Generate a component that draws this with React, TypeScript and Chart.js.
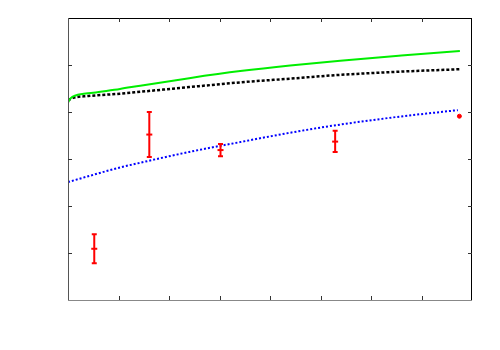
import React, { useEffect, useRef } from "react";
import { Chart, registerables } from "chart.js";

Chart.register(...registerables);

const greenX = [0, 0.05, 0.15, 0.5, 1.03, 1.43, 2.4, 3.41, 4.4, 5.39, 6.6, 7.76];
const greenY = [4.2, 4.29, 4.35, 4.41, 4.49, 4.56, 4.72, 4.87, 4.99, 5.09, 5.2, 5.3];
const blackX = [0, 0.1, 0.4, 1.03, 1.43, 2.4, 3.41, 4.4, 5.39, 6.6, 7.76];
const blackY = [4.25, 4.3, 4.34, 4.39, 4.43, 4.53, 4.63, 4.71, 4.79, 4.86, 4.91];
const blueX = [0, 1.03, 1.43, 2.4, 3.41, 4.3, 5.19, 6.4, 7.72];
const blueY = [2.51, 2.82, 2.92, 3.15, 3.36, 3.54, 3.7, 3.88, 4.04];
const errX = [0.52, 1.61, 3.02, 5.29];
const errY = [1.09, 3.52, 3.19, 3.37];
const errLow = [0.78, 3.04, 3.06, 3.15];
const errHigh = [1.4, 4.0, 3.32, 3.6];
const soloX = [7.75];
const soloY = [3.91];
const xTicks = [1, 2, 3, 4, 5, 6, 7];
const yTicks = [1, 2, 3, 4, 5];

const pts = (xs: number[], ys: number[]) => xs.map((x, i) => ({ x, y: ys[i] }));

const framePlugin = {
  id: "frame",
  afterDatasetsDraw(chart: any) {
    const { ctx, chartArea: a, scales } = chart;
    const xs = scales.x, ys = scales.y;
    ctx.save();
    ctx.strokeStyle = "#ff0000";
    ctx.lineWidth = 2;
    errX.forEach((xv, i) => {
      const px = xs.getPixelForValue(xv);
      const lo = ys.getPixelForValue(errLow[i]);
      const hi = ys.getPixelForValue(errHigh[i]);
      ctx.beginPath();
      ctx.moveTo(px, lo);
      ctx.lineTo(px, hi);
      ctx.moveTo(px - 2.5, lo);
      ctx.lineTo(px + 2.5, lo);
      ctx.moveTo(px - 2.5, hi);
      ctx.lineTo(px + 2.5, hi);
      ctx.stroke();
    });
    ctx.lineWidth = 1;
    ctx.strokeStyle = "#000";
    ctx.beginPath();
    ctx.moveTo(a.left, a.top + 0.5);
    ctx.lineTo(a.right, a.top + 0.5);
    ctx.moveTo(a.right - 0.5, a.top);
    ctx.lineTo(a.right - 0.5, a.bottom);
    ctx.stroke();
    ctx.strokeStyle = "#555";
    ctx.beginPath();
    ctx.moveTo(a.left + 0.5, a.top);
    ctx.lineTo(a.left + 0.5, a.bottom);
    ctx.stroke();
    ctx.strokeStyle = "#888";
    ctx.beginPath();
    ctx.moveTo(a.left, a.bottom + 0.5);
    ctx.lineTo(a.right, a.bottom + 0.5);
    ctx.stroke();
    ctx.strokeStyle = "#333";
    ctx.beginPath();
    xTicks.forEach((t) => {
      const px = Math.round(xs.getPixelForValue(t)) + 0.5;
      ctx.moveTo(px, a.bottom);
      ctx.lineTo(px, a.bottom - 4);
      ctx.moveTo(px, a.top);
      ctx.lineTo(px, a.top + 4);
    });
    yTicks.forEach((t) => {
      const py = Math.round(ys.getPixelForValue(t)) + 0.5;
      ctx.moveTo(a.left, py);
      ctx.lineTo(a.left + 4, py);
      ctx.moveTo(a.right, py);
      ctx.lineTo(a.right - 4, py);
    });
    ctx.stroke();
    ctx.restore();
  },
};

export default function App() {
  const ref = useRef<HTMLCanvasElement>(null);
  useEffect(() => {
    if (!ref.current) return;
    const chart = new Chart(ref.current, {
      type: "scatter",
      data: {
        datasets: [
          {
            type: "line",
            data: pts(greenX, greenY),
            borderColor: "#00ee00",
            borderWidth: 2,
            pointRadius: 0,
            cubicInterpolationMode: "monotone",
          } as any,
          {
            type: "line",
            data: pts(blackX, blackY),
            borderColor: "#000000",
            borderWidth: 2.5,
            borderDash: [3, 2],
            pointRadius: 0,
            cubicInterpolationMode: "monotone",
          } as any,
          {
            type: "line",
            data: pts(blueX, blueY),
            borderColor: "#0000ff",
            borderWidth: 2,
            borderDash: [2, 2],
            pointRadius: 0,
            cubicInterpolationMode: "monotone",
          } as any,
          {
            data: pts(errX, errY),
            pointStyle: "line",
            pointRadius: 3,
            borderColor: "#ff0000",
            backgroundColor: "#ff0000",
            borderWidth: 2,
          },
          {
            data: pts(soloX, soloY),
            pointStyle: "circle",
            pointRadius: 2,
            borderColor: "#ff0000",
            backgroundColor: "#ff0000",
            borderWidth: 1,
          },
        ],
      },
      options: {
        animation: false,
        responsive: false,
        layout: { padding: { left: 68, right: 28, top: 18, bottom: 50 } },
        plugins: { legend: { display: false }, tooltip: { enabled: false } },
        scales: {
          x: { type: "linear", min: 0, max: 8, display: false },
          y: { type: "linear", min: 0, max: 6, display: false },
        },
      },
      plugins: [framePlugin],
    });
    return () => chart.destroy();
  }, []);
  return (
    <div style={{ position: "fixed", left: 0, top: 0, width: 500, height: 350, background: "#fff" }}>
      <canvas ref={ref} width={500} height={350} />
    </div>
  );
}
